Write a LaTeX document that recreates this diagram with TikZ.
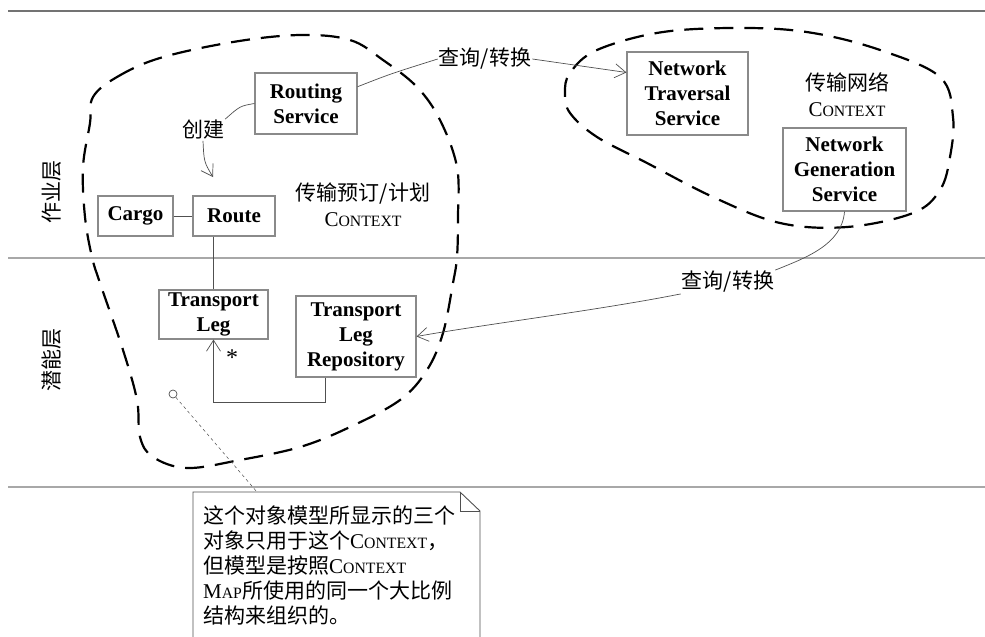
\documentclass[tikz,border=0pt]{standalone}
\usepackage{fontspec}
\setmainfont{Liberation Serif}
\newfontfamily\cjk{Noto Sans CJK SC}
\usepackage{graphicx}
\usepackage{xcolor}
\usepackage{tikz}
\usetikzlibrary{positioning,arrows.meta,calc}
\definecolor{boxbd}{HTML}{8A8A8A}
\definecolor{linegr}{HTML}{505050}
\definecolor{layergr}{HTML}{A8A8A8}
\newcommand{\ctxname}{{\rmfamily C\scalebox{0.75}{ONTEXT}}}
\newcommand{\mapname}{{\rmfamily M\scalebox{0.75}{AP}}}

\tikzset{
  obj/.style={draw=boxbd,line width=1.1pt,inner sep=0pt,align=center,
    font=\fontsize{21}{25}\selectfont\bfseries},
  ctxline/.style={line width=2.2pt,dash pattern=on 19pt off 11pt},
  conn/.style={draw=linegr,line width=0.7pt},
  barb/.style={-{Straight Barb[length=11pt,width=14pt]}},
  cjklbl/.style={font=\cjk\fontsize{21}{25}\selectfont,inner sep=1pt},
  ctxlbl/.style={font=\cjk\fontsize{21}{26}\selectfont,align=center,inner sep=0pt},
  layer/.style={line width=1.2pt},
}

\begin{document}
\begin{tikzpicture}[x=1pt,y=-1pt]
\useasboundingbox (0,0) rectangle (985,637);

% layers
\draw[layer,draw=linegr!80] (8,11) -- (985,11);
\draw[layer,draw=layergr] (8,258) -- (985,258);
\draw[layer,draw=layergr] (8,487) -- (985,487);
\node[cjklbl,rotate=90] (opl) at (52,192) {作业层};
\node[cjklbl,rotate=90] (pol) at (52,360) {潜能层};

% contexts
\draw[ctxline] plot[smooth cycle,tension=0.6] coordinates {
  (93,97) (117,77) (160,58) (233,42) (300,35) (350,40) (383,60) (417,87)
  (440,120) (457,167) (458,217) (457,257) (453,283) (443,333) (427,370)
  (400,400) (350,427) (300,447) (240,460) (187,468) (153,457) (140,437)
  (137,400) (123,350) (100,283) (92,257) (85,217) (83,167) (90,123)};
\draw[ctxline] plot[smooth cycle,tension=0.6] coordinates {
  (570,73) (597,50) (663,32) (747,28) (813,33) (880,50) (940,77) (953,117)
  (950,157) (940,190) (913,213) (847,227) (780,223) (713,197) (647,163)
  (597,137) (570,113) (565,93)};
\node[ctxlbl] (bookctx) at (363,205) {传输预订/计划\\\ctxname};
\node[ctxlbl] (netctx) at (847,95) {传输网络\\\ctxname};

% objects
\node[obj,minimum width=102pt,minimum height=61pt] (routing) at (306,103.5) {Routing\\Service};
\node[obj,minimum width=75pt,minimum height=40pt] (cargo) at (135.5,216) {Cargo};
\node[obj,minimum width=82pt,minimum height=40pt] (route) at (234,216) {Route};
\node[obj,minimum width=109pt,minimum height=49pt] (leg) at (213.5,314.5) {Transport\\Leg};
\node[obj,minimum width=120pt,minimum height=81pt] (repo) at (356,336.5) {Transport\\Leg\\Repository};
\node[obj,minimum width=121pt,minimum height=83pt] (trav) at (687.5,93.5) {Network\\Traversal\\Service};
\node[obj,minimum width=123pt,minimum height=83pt] (gen) at (844.5,169.5) {Network\\Generation\\Service};

% associations
\draw[conn] (cargo) -- (route);
\draw[conn] (route.south -| leg.north) -- (leg.north);
\draw[conn,barb] ($(repo.south west)!.25!(repo.south east)$) -- ++(0,25) -| (leg.south);
\node[font=\fontsize{24}{24}\selectfont,inner sep=0pt] (many) at (232,358) {*};

% creates
\node[cjklbl] (create) at (203,130) {创建};
\coordinate (createtip) at (213,177);
\draw[conn] (routing.west) .. controls (240,106) .. (create.north east);
\draw[conn,barb] (create.south) .. controls (204,162) .. (createtip);

% query / translate
\node[cjklbl] (query1) at (485,59) {查询/转换};
\draw[conn] ($(routing.north east)!.23!(routing.south east)$) .. controls (390,74) .. (query1.west);
\draw[conn,barb] (query1.east) -- ($(trav.north west)!.25!(trav.south west)$);
\node[cjklbl] (query2) at (728,282) {查询/转换};
\draw[conn] (gen.south) .. controls (842,245) and (805,258) .. (query2.north east);
\draw[conn,barb] (query2.south west) .. controls (600,310) and (480,325) .. (repo.east);

% note
\node[circle,draw=linegr,line width=0.7pt,minimum size=8pt,inner sep=0pt] (pin) at (173,394) {};
\coordinate (notetop) at (257,492);
\draw[conn,dashed,line width=0.5pt] (pin) -- (notetop);
\draw[conn,line width=0.9pt] (193,637) -- (193,492) -- (460,492) -- (480,511) -- (480,637);
\draw[conn,line width=0.9pt] (460,492) -- (460,511) -- (480,511);
\node[anchor=north west,inner sep=0pt,align=left,font=\cjk\fontsize{21}{25}\selectfont] (notetext) at (203,506)
  {这个对象模型所显示的三个\\对象只用于这个\ctxname，\\但模型是按照\ctxname\\\mapname 所使用的同一个大比例\\结构来组织的。};
\end{tikzpicture}
\end{document}
